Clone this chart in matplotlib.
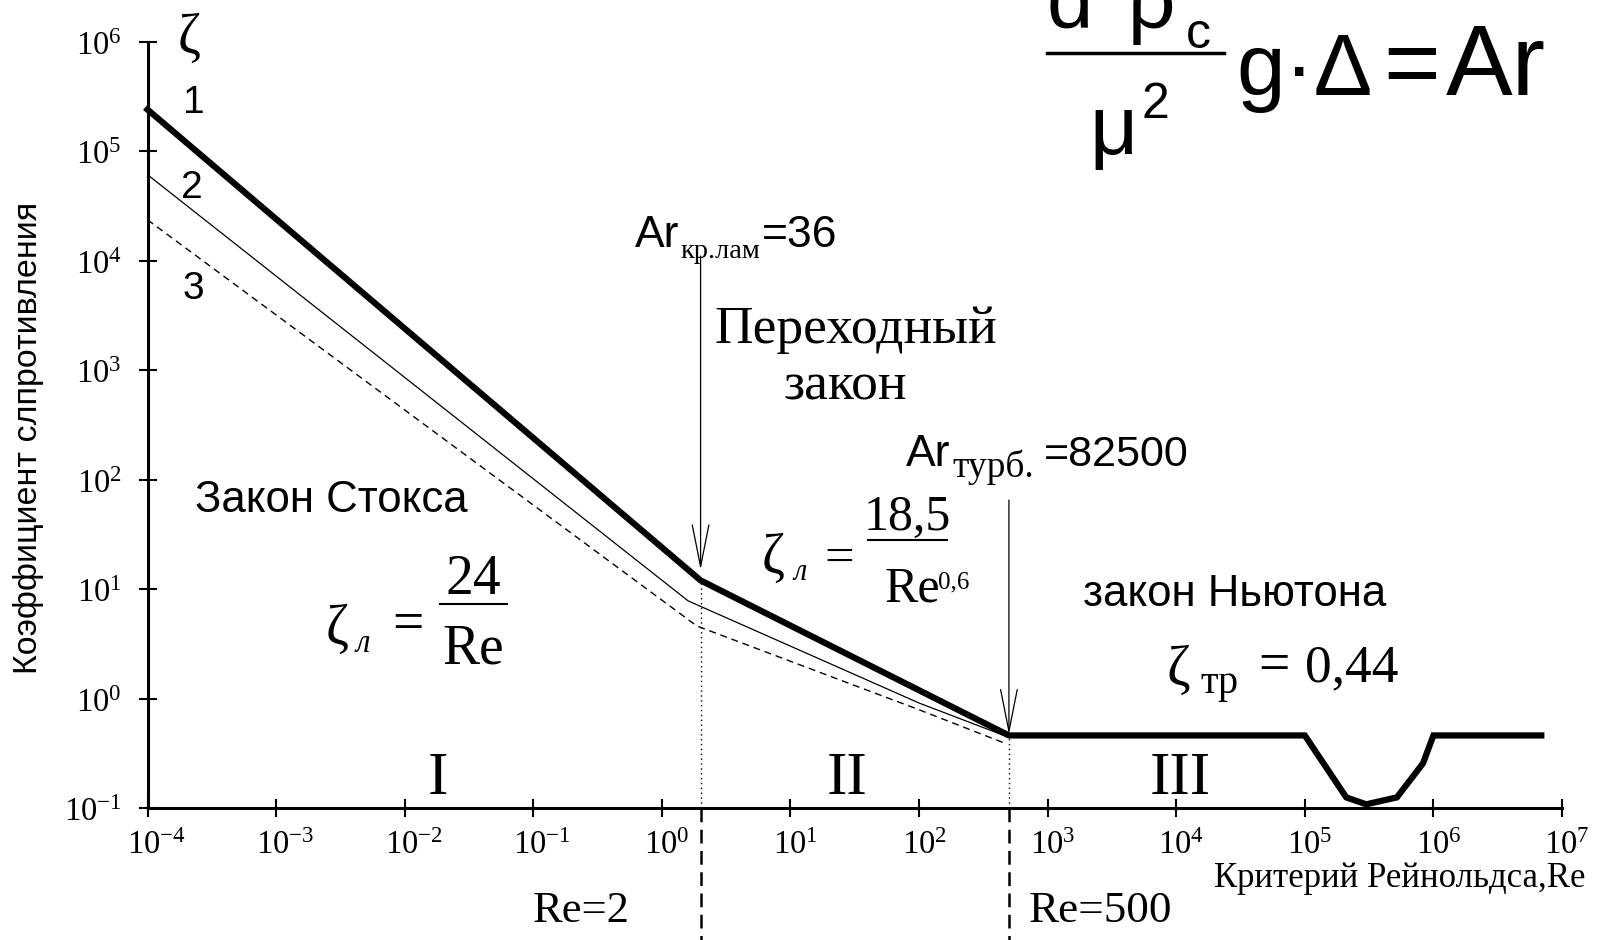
import matplotlib
matplotlib.use("Agg")
import matplotlib.pyplot as plt
from matplotlib.lines import Line2D
from matplotlib.transforms import blended_transform_factory, ScaledTranslation
from matplotlib.ticker import FixedLocator, FixedFormatter, NullLocator

plt.rcParams['mathtext.fontset'] = 'custom'
plt.rcParams['mathtext.rm'] = 'Liberation Serif'
plt.rcParams['mathtext.it'] = 'Liberation Serif:italic'
plt.rcParams['mathtext.bf'] = 'Liberation Serif:bold'
plt.rcParams['mathtext.sf'] = 'Liberation Sans'

# ---------------- data ----------------
re_curve1 = [1e-4, 2, 500, 1e5, 2.1e5, 3e5, 5.2e5, 8.3e5, 1.0e6, 6.9e6]
zeta_curve1 = [2.4e5, 12, 0.46, 0.46, 0.125, 0.108, 0.125, 0.256, 0.46, 0.46]
re_curve2 = [1e-4, 1.6, 100, 480]
zeta_curve2 = [6.1e4, 7.8, 0.91, 0.45]
re_curve3 = [1e-4, 1.87, 100, 466]
zeta_curve3 = [2.36e4, 4.6, 0.79, 0.39]
re_bounds = [2, 500]
x_decades = [-4, -3, -2, -1, 0, 1, 2, 3, 4, 5, 6, 7]
y_decades = [-1, 0, 1, 2, 3, 4, 5, 6]

W, H = 1606, 940
fig = plt.figure(figsize=(W / 100, H / 100), dpi=100)
fig.patch.set_facecolor('white')
ax = fig.add_axes([147.5 / W, 1 - 808 / H, (1562 - 147.5) / W, (808 - 41.7) / H])
ax.set_xscale('log')
ax.set_yscale('log')
ax.set_xlim(1e-4, 1e7)
ax.set_ylim(0.1, 1e6)

for s in ['top', 'right']:
    ax.spines[s].set_visible(False)
for s in ['left', 'bottom']:
    ax.spines[s].set_linewidth(2.2)

ax.xaxis.set_major_locator(FixedLocator([10.0 ** e for e in x_decades]))
ax.xaxis.set_major_formatter(FixedFormatter([r"$\mathrm{10^{%d}}$" % e for e in x_decades]))
ax.yaxis.set_major_locator(FixedLocator([10.0 ** e for e in y_decades]))
ax.yaxis.set_major_formatter(FixedFormatter([r"$\mathrm{10^{%d}}$" % e for e in y_decades]))
ax.xaxis.set_minor_locator(NullLocator())
ax.yaxis.set_minor_locator(NullLocator())
ax.tick_params(axis='both', direction='inout', length=13, width=1.5, labelsize=23.5)
ax.tick_params(axis='y', pad=12)
ax.tick_params(axis='x', pad=8)

# shift x tick labels so that the "10" sits under the tick, exponent hanging right
for lab, e in zip(ax.get_xticklabels(), x_decades):
    dx = 5 if e >= 0 else 9
    lab.set_transform(lab.get_transform() + ScaledTranslation(dx / 100, 0, fig.dpi_scale_trans))

# curves
ax.plot(re_curve1, zeta_curve1, color='black', lw=4.5, solid_joinstyle='miter', clip_on=False, zorder=5)
ax.plot(re_curve2, zeta_curve2, color='black', lw=0.9, zorder=4)
ax.plot(re_curve3, zeta_curve3, color='black', lw=1.0, dashes=(5, 3.5), zorder=4)

# boundaries: dotted up to curve, dashed below axis
ax.plot([re_bounds[0]] * 2, [0.1, zeta_curve1[1]], color='black', lw=1.0, ls=(0, (1, 2.5)))
ax.plot([re_bounds[1]] * 2, [0.1, zeta_curve1[2]], color='black', lw=1.0, ls=(0, (1, 2.5)))
trans = blended_transform_factory(ax.transData, ax.transAxes)
for rb in re_bounds:
    ax.plot([rb, rb], [0, -0.2], transform=trans, color='black', lw=1.8,
            dashes=(5.5, 3), clip_on=False)

# arrows
ax.annotate('', xy=(2, 15), xytext=(2, 1.1e4),
            arrowprops=dict(arrowstyle='->,head_length=3.0,head_width=0.6', lw=0.9,
                            color='black', mutation_scale=10, shrinkA=0, shrinkB=0))
ax.annotate('', xy=(500, 0.47), xytext=(500, 65),
            arrowprops=dict(arrowstyle='->,head_length=3.0,head_width=0.6', lw=0.9,
                            color='black', mutation_scale=10, shrinkA=0, shrinkB=0))

SANS = 'Liberation Sans'
SERIF = 'Liberation Serif'


def ftxt(x, y, s, **kw):
    kw.setdefault('va', 'baseline')
    kw.setdefault('color', 'black')
    return fig.text(x / W, 1 - y / H, s, **kw)


def fline(x0, x1, y, lw=1.5):
    fig.add_artist(Line2D([x0 / W, x1 / W], [1 - y / H, 1 - y / H], color='black', lw=lw,
                          transform=fig.transFigure))


# axis labels
ftxt(178, 53, 'ζ', family=SERIF, fontsize=40)
ftxt(183, 113, '1', family=SANS, fontsize=28)
ftxt(181, 198, '2', family=SANS, fontsize=28)
ftxt(183, 299, '3', family=SANS, fontsize=28)
ftxt(29, 438, 'Коэффициент слпротивления', family=SANS, fontsize=24.5, rotation=90,
     ha='center', va='center')
ftxt(1214, 887, 'Критерий Рейнольдса,Re', family=SERIF, fontsize=25)

# Stokes region
ftxt(195, 512, 'Закон Стокса', family=SANS, fontsize=31.5)
ftxt(326, 644, 'ζ', family=SERIF, fontsize=40)
ftxt(356, 652, 'л', family=SERIF, fontsize=24, style='italic')
ftxt(392, 640, '=', family=SERIF, fontsize=40)
ftxt(473, 594, '24', family=SERIF, fontsize=40, ha='center')
fline(440, 507, 604, lw=1.5)
ftxt(473, 664, 'Re', family=SERIF, fontsize=40, ha='center')

# transitional region
ftxt(635, 247, 'Ar', family=SANS, fontsize=32)
ftxt(680, 258, 'кр.лам', family=SERIF, fontsize=20.5)
ftxt(762, 247, '=36', family=SANS, fontsize=32)
ftxt(856, 343, 'Переходный', family=SERIF, fontsize=38.5, ha='center')
ftxt(845, 400, 'закон', family=SERIF, fontsize=38.5, ha='center')
ftxt(762, 573, 'ζ', family=SERIF, fontsize=40)
ftxt(793, 580, 'л', family=SERIF, fontsize=22, style='italic')
ftxt(824, 573, '=', family=SERIF, fontsize=38)
ftxt(907, 530, '18,5', family=SERIF, fontsize=36, ha='center')
fline(868, 947, 540, lw=1.5)
ftxt(912, 602, 'Re', family=SERIF, fontsize=36, ha='center')
ftxt(938, 588, '0,6', family=SERIF, fontsize=18)

# turbulent region
ftxt(906, 466, 'Ar', family=SANS, fontsize=32)
ftxt(952, 477, 'турб.', family=SERIF, fontsize=27)
ftxt(1044, 466, '=82500', family=SANS, fontsize=31)
ftxt(1083, 606, 'закон Ньютона', family=SANS, fontsize=31.5)
ftxt(1167, 685, 'ζ', family=SERIF, fontsize=41)
ftxt(1200, 693, 'тр', family=SERIF, fontsize=29)
ftxt(1258, 681, '=', family=SERIF, fontsize=40)
ftxt(1305, 681, '0,44', family=SERIF, fontsize=38.5)

# region numerals
ftxt(438, 794, 'I', family=SERIF, fontsize=44, ha='center')
ftxt(847, 794, 'II', family=SERIF, fontsize=44, ha='center')
ftxt(1180, 794, 'III', family=SERIF, fontsize=44, ha='center')

# boundary labels
ftxt(533, 922, 'Re=2', family=SERIF, fontsize=32)
ftxt(1029, 922, 'Re=500', family=SERIF, fontsize=32.5)

# Archimedes formula (top right, partly cut as in the original)
ftxt(1047, 28, 'd', family=SANS, fontsize=60)
ftxt(1128, 28, 'ρ', family=SANS, fontsize=60)
ftxt(1186, 48, 'c', family=SANS, fontsize=36)
fline(1047, 1224, 53, lw=2.5)
ftxt(1089, 154, 'μ', family=SANS, fontsize=60)
ftxt(1142, 118, '2', family=SANS, fontsize=36)
ftxt(1236, 95, 'g·Δ', family=SANS, fontsize=63)
ftxt(1383, 95, '=', family=SANS, fontsize=70)
ftxt(1446, 95, 'Ar', family=SANS, fontsize=72)

fig.savefig('out.png', dpi=100, facecolor='white')
